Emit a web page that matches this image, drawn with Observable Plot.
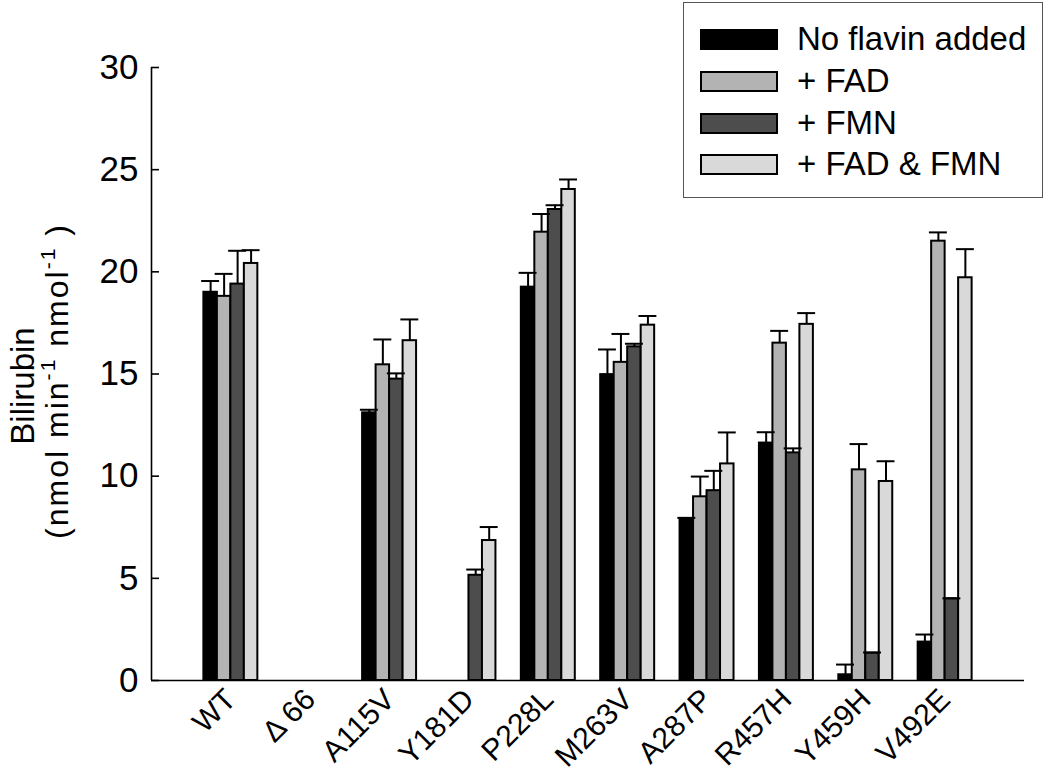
<!DOCTYPE html>
<html>
<head>
<meta charset="utf-8">
<script src="https://cdn.jsdelivr.net/npm/d3@7"></script>
<script src="https://cdn.jsdelivr.net/npm/@observablehq/plot@0.6"></script>
<style>
  body { margin: 0; background: #fff; font-family: "Liberation Sans", Arial, sans-serif; }
  #wrap { position: relative; width: 1050px; height: 782px; }
  #legend { position: absolute; left: 683px; top: 2px; width: 358px; height: 194px;
            border: 1.5px solid #555; background: #fff; box-sizing: content-box; }
  .row { position: absolute; left: 16px; height: 20px; display: flex; align-items: center; }
  .sw { width: 74px; height: 17px; border: 2px solid #000; margin-right: 19px; }
  .lab { font-size: 33px; color: #000; white-space: nowrap; line-height: 20px; }
</style>
</head>
<body>
<div id="wrap"></div>
<script>
const groups = ["WT", "\u0394 66", "A115V", "Y181D", "P228L", "M263V", "A287P", "R457H", "Y459H", "V492E"];
const seriesNames = ["No flavin added", "+ FAD", "+ FMN", "+ FAD & FMN"];
const seriesColors = ["#000000", "#b3b3b3", "#4d4d4d", "#d9d9d9"];

const noFlavin    = [19.0, null, 13.1, null, 19.25, 14.97, 7.88, 11.62, 0.28, 1.88];
const noFlavinErr = [0.55, null, 0.15, null, 0.70, 1.23, 0.08, 0.53, 0.50, 0.37];
const fad         = [18.8, null, 15.45, null, 21.94, 15.57, 8.99, 16.51, 10.31, 21.5];
const fadErr      = [1.10, null, 1.24, null, 0.89, 1.39, 0.99, 0.60, 1.26, 0.43];
const fmn         = [19.4, null, 14.75, 5.15, 23.05, 16.33, 9.29, 11.14, 1.34, 4.0];
const fmnErr      = [1.63, null, 0.28, 0.28, 0.21, 0.15, 0.97, 0.22, 0.03, 0.02];
const fadFmn      = [20.41, null, 16.63, 6.85, 24.03, 17.39, 10.6, 17.43, 9.74, 19.71];
const fadFmnErr   = [0.65, null, 1.04, 0.66, 0.49, 0.45, 1.54, 0.55, 0.99, 1.40];

const yTicks = [0, 5, 10, 15, 20, 25, 30];
const yLabelTitle = "Bilirubin";
const yLabelUnitParts = [["(nmol min", false], ["-1", true], [" nmol", false], ["-1", true], [" )", false]];

const seriesValues = [noFlavin, fad, fmn, fadFmn];
const seriesErrors = [noFlavinErr, fadErr, fmnErr, fadFmnErr];

const barW = 0.17;   // width of one bar in group units
const capHalf = 0.113;

const table = [];
groups.forEach((g, gi) => {
  seriesNames.forEach((s, si) => {
    const v = seriesValues[si][gi];
    if (v == null) return;
    const x1 = gi + 1 + (si - 2) * barW;
    table.push({
      group: g, series: s, value: v, top: v + seriesErrors[si][gi],
      x1, x2: x1 + barW, xc: x1 + barW / 2
    });
  });
});

const font = "'Liberation Sans', Arial, sans-serif";
const unitText = yLabelUnitParts.map(p => p[0]).join("");

const chart = Plot.plot({
  width: 1050,
  height: 782,
  marginLeft: 151,
  marginRight: 26,
  marginTop: 67,
  marginBottom: 102,
  style: { fontFamily: font, background: "#fff", color: "#000" },
  x: { domain: [0, 11] },
  y: { domain: [0, 30] },
  color: { domain: seriesNames, range: seriesColors },
  marks: [
    Plot.rectY(table, { x1: "x1", x2: "x2", y: "value", fill: "series", stroke: "#000", strokeWidth: 2 }),
    Plot.ruleX(table, { x: "xc", y1: "value", y2: "top", stroke: "#000", strokeWidth: 2 }),
    Plot.ruleY(table, { y: "top", x1: d => d.xc - capHalf, x2: d => d.xc + capHalf, stroke: "#000", strokeWidth: 2 }),
    Plot.ruleX([0], { stroke: "#000", strokeWidth: 1.6 }),
    Plot.ruleY([0], { stroke: "#000", strokeWidth: 1.6 }),
    Plot.axisY({ ticks: yTicks, tickSize: 8, dx: 8, text: null, stroke: "#000", strokeWidth: 1.6 }),
    Plot.axisY({ ticks: yTicks, tickSize: 0, tickPadding: 13, fontSize: 35, label: null }),
    Plot.axisX({ ticks: d3.range(1, 11), tickFormat: i => groups[i - 1], tickSize: 0,
                 tickPadding: 14, tickRotate: -45, fontSize: 30, label: null }),
    Plot.text([yLabelTitle], { frameAnchor: "left", textAnchor: "middle", rotate: -90, dx: -128, dy: 12, fontSize: 33, text: d => d }),
    Plot.text([unitText], { frameAnchor: "left", textAnchor: "middle", rotate: -90, dx: -94, dy: 8, fontSize: 32, text: d => d })
  ]
});

// superscripts in the unit line, spaced like the original
d3.select(chart).selectAll('g[aria-label="text"] text')
  .filter(function () { return this.textContent === unitText; })
  .each(function () {
    const t = d3.select(this);
    t.text(null).attr("textLength", 314).attr("lengthAdjust", "spacing");
    yLabelUnitParts.forEach(([s, sup], i) => {
      const prevSup = i > 0 && yLabelUnitParts[i - 1][1];
      const ts = t.append("tspan").text(s);
      if (sup) ts.attr("font-size", 21).attr("dy", -13);
      else if (prevSup) ts.attr("dy", 13);
    });
  });

const wrap = document.getElementById("wrap");
wrap.appendChild(chart);

const legend = document.createElement("div");
legend.id = "legend";
const rowTops = [26, 68, 110, 151];
seriesNames.forEach((s, i) => {
  const row = document.createElement("div");
  row.className = "row";
  row.style.top = rowTops[i] + "px";
  const sw = document.createElement("div");
  sw.className = "sw";
  sw.style.background = seriesColors[i];
  const lab = document.createElement("div");
  lab.className = "lab";
  lab.textContent = s;
  row.appendChild(sw);
  row.appendChild(lab);
  legend.appendChild(row);
});
wrap.appendChild(legend);
</script>
</body>
</html>
